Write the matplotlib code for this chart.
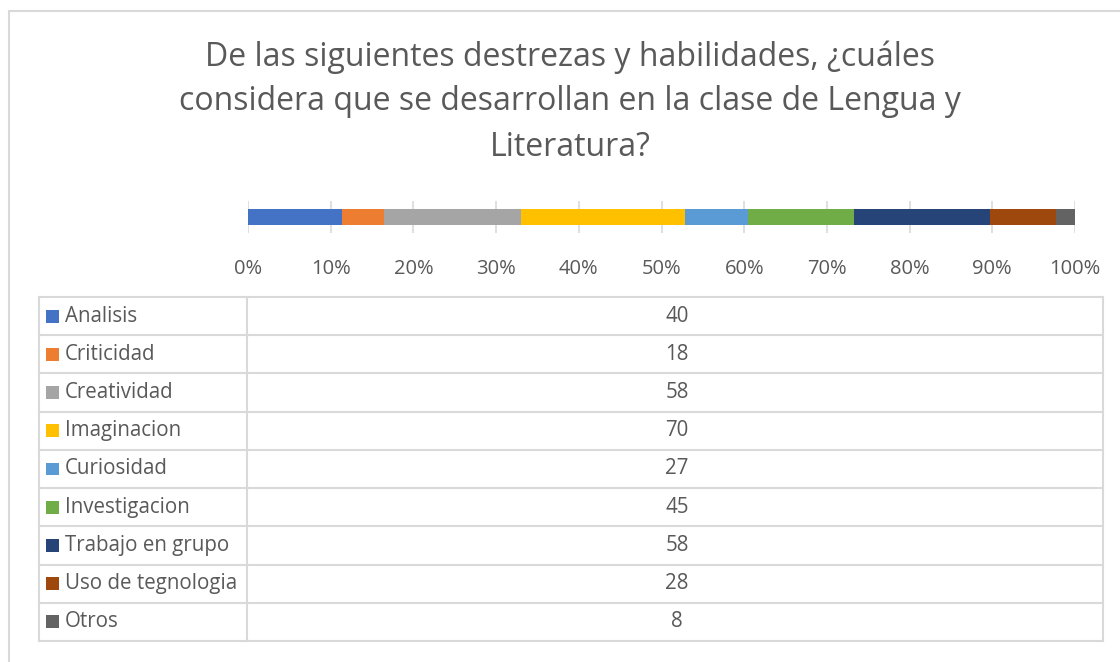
import matplotlib
matplotlib.use("Agg")
import matplotlib.pyplot as plt
from matplotlib.patches import Rectangle
import numpy as np

plt.rcParams['font.family'] = ['Open Sans', 'DejaVu Sans']

categories = ["Analisis", "Criticidad", "Creatividad", "Imaginacion", "Curiosidad",
              "Investigacion", "Trabajo en grupo", "Uso de tegnologia", "Otros"]
values = [40, 18, 58, 70, 27, 45, 58, 28, 8]
colors = ["#4472C4", "#ED7D31", "#A5A5A5", "#FFC000", "#5B9BD5",
          "#70AD47", "#264478", "#9E480E", "#636363"]
tick_labels = ["0%", "10%", "20%", "30%", "40%", "50%", "60%", "70%", "80%", "90%", "100%"]
title_lines = ["De las siguientes destrezas y habilidades, ¿cuáles",
               "considera que se desarrollan en la clase de Lengua y",
               "Literatura?"]

W, H = 1120, 662
fig = plt.figure(figsize=(W / 100, H / 100), dpi=100)
TXT = "#595959"
GRID = "#D9D9D9"

def fx(px):
    return px / W

def fy(py):
    return 1 - py / H

# outer frame
fig.patches.append(Rectangle((fx(8.5), fy(700)), fx(1200), (700 - 11) / H,
                             transform=fig.transFigure, fill=False,
                             edgecolor=GRID, linewidth=1.5))

for k, line in enumerate(title_lines):
    fig.text(fx(570), fy(57 + 45 * k), line, ha="center", va="center",
             fontsize=23, color=TXT)

# bar axes
x0, x1 = 248, 1075
ax = fig.add_axes([fx(x0), fy(233), fx(x1 - x0), (233 - 201) / H])
total = sum(values)
pct = np.array(values) / total * 100
left = 0
for v, c in zip(pct, colors):
    ax.barh(0, v, left=left, height=0.5, color=c, zorder=3)
    left += v
ax.set_xlim(0, 100)
ax.set_ylim(-0.5, 0.5)
ax.set_xticks(np.arange(0, 101, 10))
ax.set_xticklabels(tick_labels, fontsize=14.5, color=TXT)
ax.tick_params(axis="x", length=0, pad=19)
ax.set_yticks([])
ax.grid(axis="x", color=GRID, linewidth=1.2, zorder=0)
for s in ax.spines.values():
    s.set_visible(False)

# data table
tl, tr, tt, tb = 39, 1103, 297, 641
divx = 247
tax = fig.add_axes([fx(tl), fy(tb), fx(tr - tl), (tb - tt) / H])
tax.set_xlim(tl, tr)
tax.set_ylim(len(categories), 0)
tax.axis("off")
n = len(categories)
for i in range(n + 1):
    tax.plot([tl, tr], [i, i], color=GRID, linewidth=1.5, clip_on=False)
for xv in (tl, divx, tr):
    tax.plot([xv, xv], [0, n], color=GRID, linewidth=1.5, clip_on=False)
for i, (cat, v, c) in enumerate(zip(categories, values, colors)):
    tax.add_patch(Rectangle((46, i + 0.5 - 0.17), 12.5, 0.34, color=c, linewidth=0))
    tax.text(65, i + 0.5, cat, ha="left", va="center", fontsize=14.8, color=TXT)
    tax.text((divx + tr) / 2 + 2, i + 0.5, str(v), ha="center", va="center",
             fontsize=14.8, color=TXT)

fig.savefig("out.png", dpi=100, facecolor="white")
